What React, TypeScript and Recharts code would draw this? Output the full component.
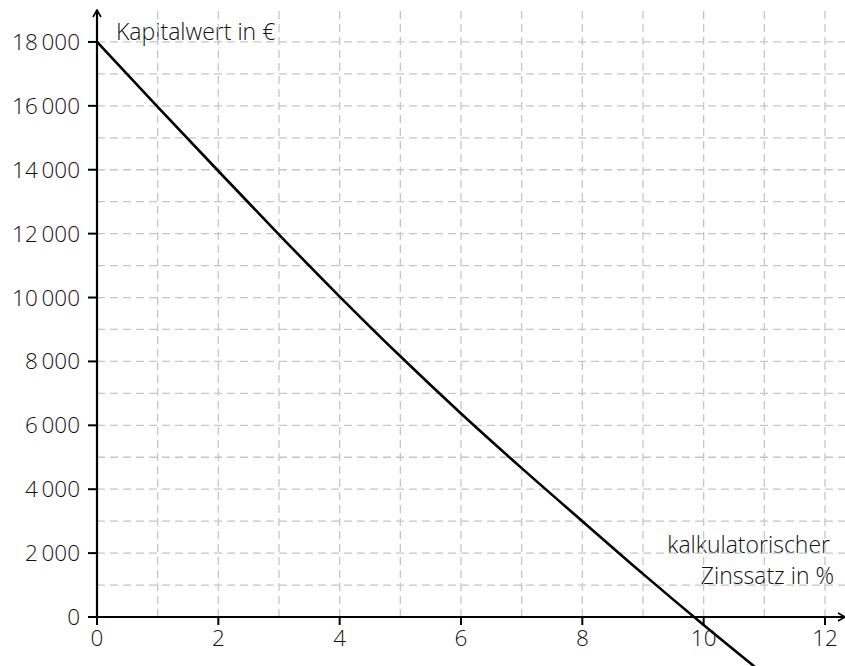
import React from 'react';
import { LineChart, Line, XAxis, YAxis, ReferenceLine } from 'recharts';

// Zinssatz in % -> Kapitalwert in €
const rates = [0, 1, 2, 3, 4, 5, 6, 7, 8, 9, 10, 11];
const npv = [18000, 15970, 13960, 11970, 10030, 8160, 6370, 4660, 3000, 1350, -250, -1800];

const xTicks = [0, 2, 4, 6, 8, 10, 12];
const yTicks = [0, 2000, 4000, 6000, 8000, 10000, 12000, 14000, 16000, 18000];
const xGrid = [1, 2, 3, 4, 5, 6, 7, 8, 9, 10, 11, 12];
const yGrid = [1000, 2000, 3000, 4000, 5000, 6000, 7000, 8000, 9000, 10000, 11000, 12000, 13000, 14000, 15000, 16000, 17000, 18000];

const data = rates.map((r, i) => ({ rate: r, value: npv[i] }));

const FONT = '"Open Sans", "Liberation Sans", Arial, sans-serif';
const fmt = (v: number) => (v >= 1000 ? String(v).replace(/(\d)(?=(\d{3})$)/, '$1\u2009') : String(v));
const gridStyle = { stroke: '#c6c6c6', strokeWidth: 1.3, strokeDasharray: '8 5' };
const tickFont = { fill: '#111', fontSize: 22.5, fontWeight: 300, fontFamily: FONT };

export default function App() {
  return (
    <div style={{ position: 'absolute', left: 0, top: 0, background: '#fff' }}>
      <style>{'svg [clip-path]{clip-path:none !important}'}</style>
      <LineChart width={845} height={666} data={data} margin={{ top: 10, right: 0, left: 0, bottom: 0 }}>
        <defs>
          <marker id="arrow" viewBox="0 0 10 10" refX="9" refY="5" markerWidth="10" markerHeight="10"
            markerUnits="userSpaceOnUse" orient="auto-start-reverse">
            <path d="M2,1 L9,5 L2,9" fill="none" stroke="#000" strokeWidth={1.6} />
          </marker>
        </defs>
        <XAxis
          dataKey="rate"
          type="number"
          domain={[0, 12.33]}
          allowDataOverflow
          ticks={xTicks}
          height={49}
          tickSize={8}
          tickMargin={5}
          axisLine={{ stroke: '#000', strokeWidth: 2.2, markerEnd: 'url(#arrow)' }}
          tickLine={{ stroke: '#000', strokeWidth: 2 }}
          tick={tickFont}
        />
        <YAxis
          type="number"
          domain={[0, 19000]}
          allowDataOverflow
          ticks={yTicks}
          width={97}
          tickSize={9}
          tickMargin={8}
          tickFormatter={fmt}
          axisLine={{ stroke: '#000', strokeWidth: 2.2, markerStart: 'url(#arrow)' }}
          tickLine={{ stroke: '#000', strokeWidth: 2 }}
          tick={tickFont}
        />
        {xGrid.map((v) => (
          <ReferenceLine key={'x' + v} x={v} {...gridStyle} />
        ))}
        {yGrid.map((v) => (
          <ReferenceLine key={'y' + v} y={v} {...gridStyle} />
        ))}
        <Line
          type="monotone"
          dataKey="value"
          stroke="#000"
          strokeWidth={2.6}
          dot={false}
          activeDot={false}
          isAnimationActive={false}
        />
        <text x={116} y={40} fontSize={23} fontWeight={300} fontFamily={FONT} fill="#111">Kapitalwert in €</text>
        <text x={830} y={553} fontSize={23} fontWeight={300} fontFamily={FONT} fill="#111" textAnchor="end">kalkulatorischer</text>
        <text x={834} y={584} fontSize={23} fontWeight={300} fontFamily={FONT} fill="#111" textAnchor="end">Zinssatz in %</text>
      </LineChart>
    </div>
  );
}
